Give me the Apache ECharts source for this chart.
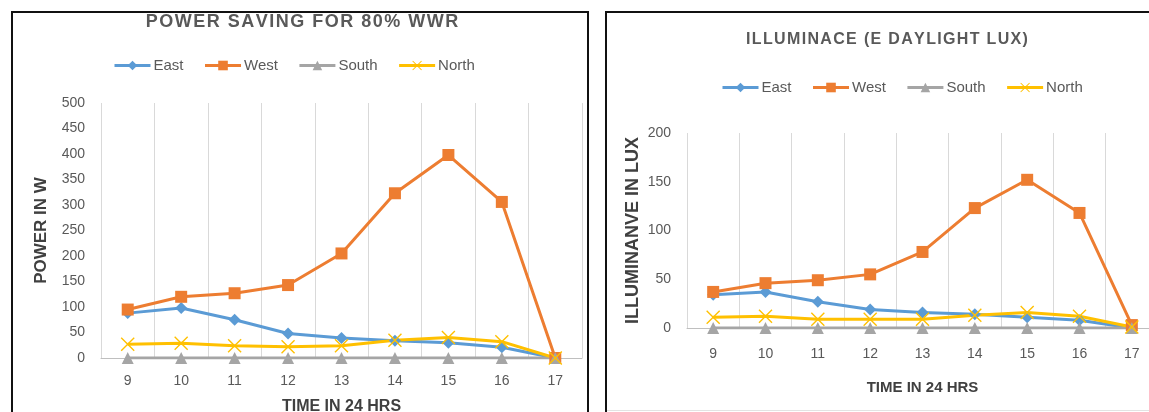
<!DOCTYPE html>
<html>
<head>
<meta charset="utf-8">
<script src="https://cdn.jsdelivr.net/npm/echarts@6/dist/echarts.min.js"></script>
<style>
  html, body { margin: 0; padding: 0; background: #fff; }
  #chart { width: 1149px; height: 412px; }
</style>
</head>
<body>
<div id="chart"></div>
<script>
// Hours of the day (categories shared by both panels)
const hours = ['9', '10', '11', '12', '13', '14', '15', '16', '17'];
const seriesNames = ['East', 'West', 'South', 'North'];

// Panel 1: power saving for 80% WWR (W)
const powerEast  = [88, 98, 75, 48, 39, 34, 30, 21, 0];
const powerWest  = [95, 120, 127, 143, 205, 323, 398, 306, 0];
const powerSouth = [0, 0, 0, 0, 0, 0, 0, 0, 0];
const powerNorth = [27, 29, 24, 22, 24, 35, 40, 32, 0];

// Panel 2: daylight illuminance (lux)
const luxEast  = [34, 37, 27, 19, 16, 14, 11, 8, 0];
const luxWest  = [37, 46, 49, 55, 78, 123, 152, 118, 3];
const luxSouth = [0, 0, 0, 0, 0, 0, 0, 0, 0];
const luxNorth = [11, 12, 9, 9, 9, 13, 16, 12, 1];

const powerTitle = 'POWER SAVING FOR 80% WWR';
const luxTitle = 'ILLUMINACE (E DAYLIGHT LUX)';
const xName = 'TIME IN 24 HRS';
const powerYName = 'POWER IN W';
const luxYName = 'ILLUMINANVE IN LUX';

const FONT = '"Liberation Sans", Arial, sans-serif';
const colors = { East: '#5B9BD5', West: '#ED7D31', South: '#A5A5A5', North: '#FFC000' };
const crossPath = 'path://M0,7L7,0L50,43L93,0L100,7L57,50L100,93L93,100L50,57L7,100L0,93L43,50Z';
const symbols = {
  East:  { symbol: 'diamond', size: 12 },
  West:  { symbol: 'rect', size: 12 },
  South: { symbol: 'triangle', size: 12 },
  North: { symbol: crossPath, size: 14 }
};

// spread letters a little, like a tracked heading
const tracked = s => s.split('').join('\u200A');

function makeSeries(idx, values) {
  return seriesNames.map((name, i) => ({
    name,
    type: 'line',
    xAxisIndex: idx,
    yAxisIndex: idx,
    data: values[i],
    symbol: symbols[name].symbol,
    symbolSize: symbols[name].size,
    showAllSymbol: true,
    lineStyle: { width: 3, color: colors[name] },
    itemStyle: { color: colors[name], borderWidth: 0 },
    emphasis: { disabled: true },
    animation: false
  }));
}

function xAxisFor(idx, margin, nameGap, nameSize) {
  return {
    gridIndex: idx,
    type: 'category',
    data: hours,
    boundaryGap: true,
    axisLine: { lineStyle: { color: '#BFBFBF', width: 1 } },
    axisTick: { show: false },
    axisLabel: { color: '#595959', fontSize: 14, fontFamily: FONT, margin, interval: 0 },
    splitLine: { show: true, interval: 0, lineStyle: { color: '#D9D9D9', width: 1 } },
    name: xName,
    nameLocation: 'middle',
    nameGap,
    nameTextStyle: { color: '#404040', fontSize: nameSize, fontWeight: 'bold', fontFamily: FONT }
  };
}

function yAxisFor(idx, max, name, nameGap, nameSize) {
  return {
    gridIndex: idx,
    type: 'value',
    min: 0,
    max,
    interval: 50,
    axisLine: { show: false },
    axisTick: { show: false },
    splitLine: { show: false },
    axisLabel: { color: '#595959', fontSize: 14, fontFamily: FONT, margin: 16 },
    name,
    nameLocation: 'middle',
    nameGap,
    nameRotate: 90,
    nameTextStyle: { color: '#404040', fontSize: nameSize, fontWeight: 'bold', fontFamily: FONT }
  };
}

function legendAt(left, top) {
  return {
    left, top,
    data: seriesNames,
    itemWidth: 36,
    itemHeight: 12,
    itemGap: 20,
    lineStyle: { width: 3 },
    textStyle: { color: '#595959', fontSize: 15, fontFamily: FONT, padding: [0, 0, 0, -2] },
    selectedMode: false
  };
}

const chart = echarts.init(document.getElementById('chart'), null, { renderer: 'canvas' });
chart.setOption({
  backgroundColor: '#ffffff',
  animation: false,
  graphic: [
    { type: 'rect', shape: { x: 12, y: 12, width: 576, height: 420 },
      style: { fill: 'none', stroke: '#111', lineWidth: 2 }, silent: true },
    { type: 'rect', shape: { x: 606, y: 12, width: 560, height: 420 },
      style: { fill: 'none', stroke: '#111', lineWidth: 2 }, silent: true },
    { type: 'line', shape: { x1: 607, y1: 410.5, x2: 1149, y2: 410.5 },
      style: { stroke: '#E3E3E3', lineWidth: 1 }, silent: true },
    { type: 'text', x: 302, y: 22, silent: true,
      style: { text: tracked(powerTitle), align: 'center', verticalAlign: 'middle',
               font: 'bold 18px ' + FONT, fill: '#595959' } },
    { type: 'text', x: 887, y: 40, silent: true,
      style: { text: tracked(luxTitle), align: 'center', verticalAlign: 'middle',
               font: 'bold 16px ' + FONT, fill: '#595959' } }
  ],
  legend: [legendAt(108, 53), legendAt(716, 75)],
  grid: [
    { left: 101, top: 103, width: 481, height: 255, outerBoundsMode: 'none', containLabel: false },
    { left: 687, top: 133, width: 471, height: 195, outerBoundsMode: 'none', containLabel: false }
  ],
  xAxis: [xAxisFor(0, 16, 41, 16), xAxisFor(1, 19, 52, 15)],
  yAxis: [yAxisFor(0, 500, powerYName, 51, 17), yAxisFor(1, 200, luxYName, 45, 18)],
  series: [
    ...makeSeries(0, [powerEast, powerWest, powerSouth, powerNorth]),
    ...makeSeries(1, [luxEast, luxWest, luxSouth, luxNorth])
  ]
});
</script>
</body>
</html>
